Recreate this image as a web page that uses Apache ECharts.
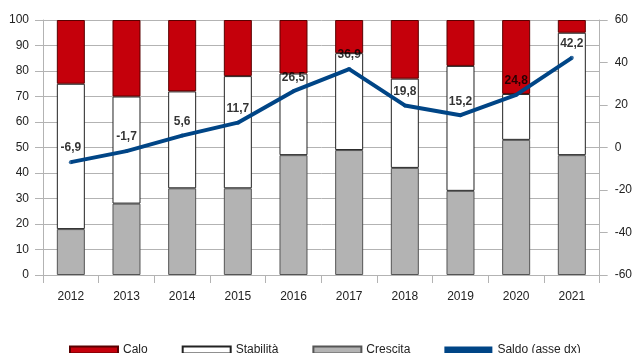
<!DOCTYPE html>
<html>
<head>
<meta charset="utf-8">
<script src="https://cdn.jsdelivr.net/npm/echarts@6/dist/echarts.min.js"></script>
<style>html,body{margin:0;padding:0;background:#fff}#c{width:635px;height:353px}</style>
</head>
<body>
<div id="c"></div>
<script>
const categories = ['2012','2013','2014','2015','2016','2017','2018','2019','2020','2021'];
const crescita = [18, 28, 34, 34, 47, 49, 42, 33, 53, 47];
const stabilita = [57, 42, 38, 44, 32, 38, 35, 49, 18, 48];
const calo = [25, 30, 28, 22, 21, 13, 23, 18, 29, 5];
const saldo = [-6.9, -1.7, 5.6, 11.7, 26.5, 36.9, 19.8, 15.2, 24.8, 42.2];

const gridCol = '#b3b3b3';
const txt = '#222';
const font = 'Liberation Sans, Arial, sans-serif';

const chart = echarts.init(document.getElementById('c'), null, {renderer: 'canvas'});
chart.setOption({
  animation: false,
  textStyle: {fontFamily: font},
  grid: {left: 43, right: 35, top: 20, bottom: 78, containLabel: false},
  legend: {
    left: 64, top: 338,
    itemWidth: 48, itemHeight: 7, itemGap: 34,
    icon: 'rect',
    textStyle: {fontSize: 12, color: txt, fontFamily: font, lineHeight: 14},
    data: ['Calo', 'Stabilità', 'Crescita', 'Saldo (asse dx)']
  },
  xAxis: {
    type: 'category', data: categories, boundaryGap: true,
    axisLine: {lineStyle: {color: gridCol}},
    axisTick: {show: true, length: 8, alignWithLabel: false, lineStyle: {color: gridCol}},
    axisLabel: {color: txt, fontSize: 12, margin: 16},
    splitLine: {show: false}
  },
  yAxis: [{
    type: 'value', min: 0, max: 100, interval: 10,
    axisLine: {show: true, lineStyle: {color: gridCol}},
    axisTick: {show: true, length: 8, lineStyle: {color: gridCol}},
    axisLabel: {color: txt, fontSize: 12, margin: 14},
    splitLine: {show: true, lineStyle: {color: gridCol}}
  }, {
    type: 'value', min: -60, max: 60, interval: 20, position: 'right',
    axisLine: {show: true, lineStyle: {color: gridCol}},
    axisTick: {show: true, length: 8, lineStyle: {color: gridCol}},
    axisLabel: {color: txt, fontSize: 12, margin: 15},
    splitLine: {show: false}
  }],
  series: [
    {name: 'Crescita', type: 'bar', stack: 's', data: crescita, barWidth: 28,
     itemStyle: {color: '#b3b3b3', borderColor: '#555', borderWidth: 1}},
    {name: 'Stabilità', type: 'bar', stack: 's', data: stabilita, barWidth: 28,
     itemStyle: {color: '#ffffff', borderColor: '#222', borderWidth: 1}},
    {name: 'Calo', type: 'bar', stack: 's', data: calo, barWidth: 28,
     itemStyle: {color: '#c5000b', borderColor: '#5a0000', borderWidth: 1}},
    {name: 'Saldo (asse dx)', type: 'line', yAxisIndex: 1, data: saldo,
     symbol: 'none', z: 5,
     itemStyle: {color: '#004586'},
     lineStyle: {color: '#004586', width: 4}},
    {name: 'saldo-labels', type: 'scatter', yAxisIndex: 1, data: saldo,
     symbolSize: 4, z: 6, silent: true,
     itemStyle: {color: '#004586'},
     label: {show: true, position: 'top', distance: 6, fontWeight: 'bold', fontSize: 12, color: '#000',
       fontFamily: font,
       formatter: p => String(p.value).replace('.', ',')}}
  ]
});
</script>
</body>
</html>
